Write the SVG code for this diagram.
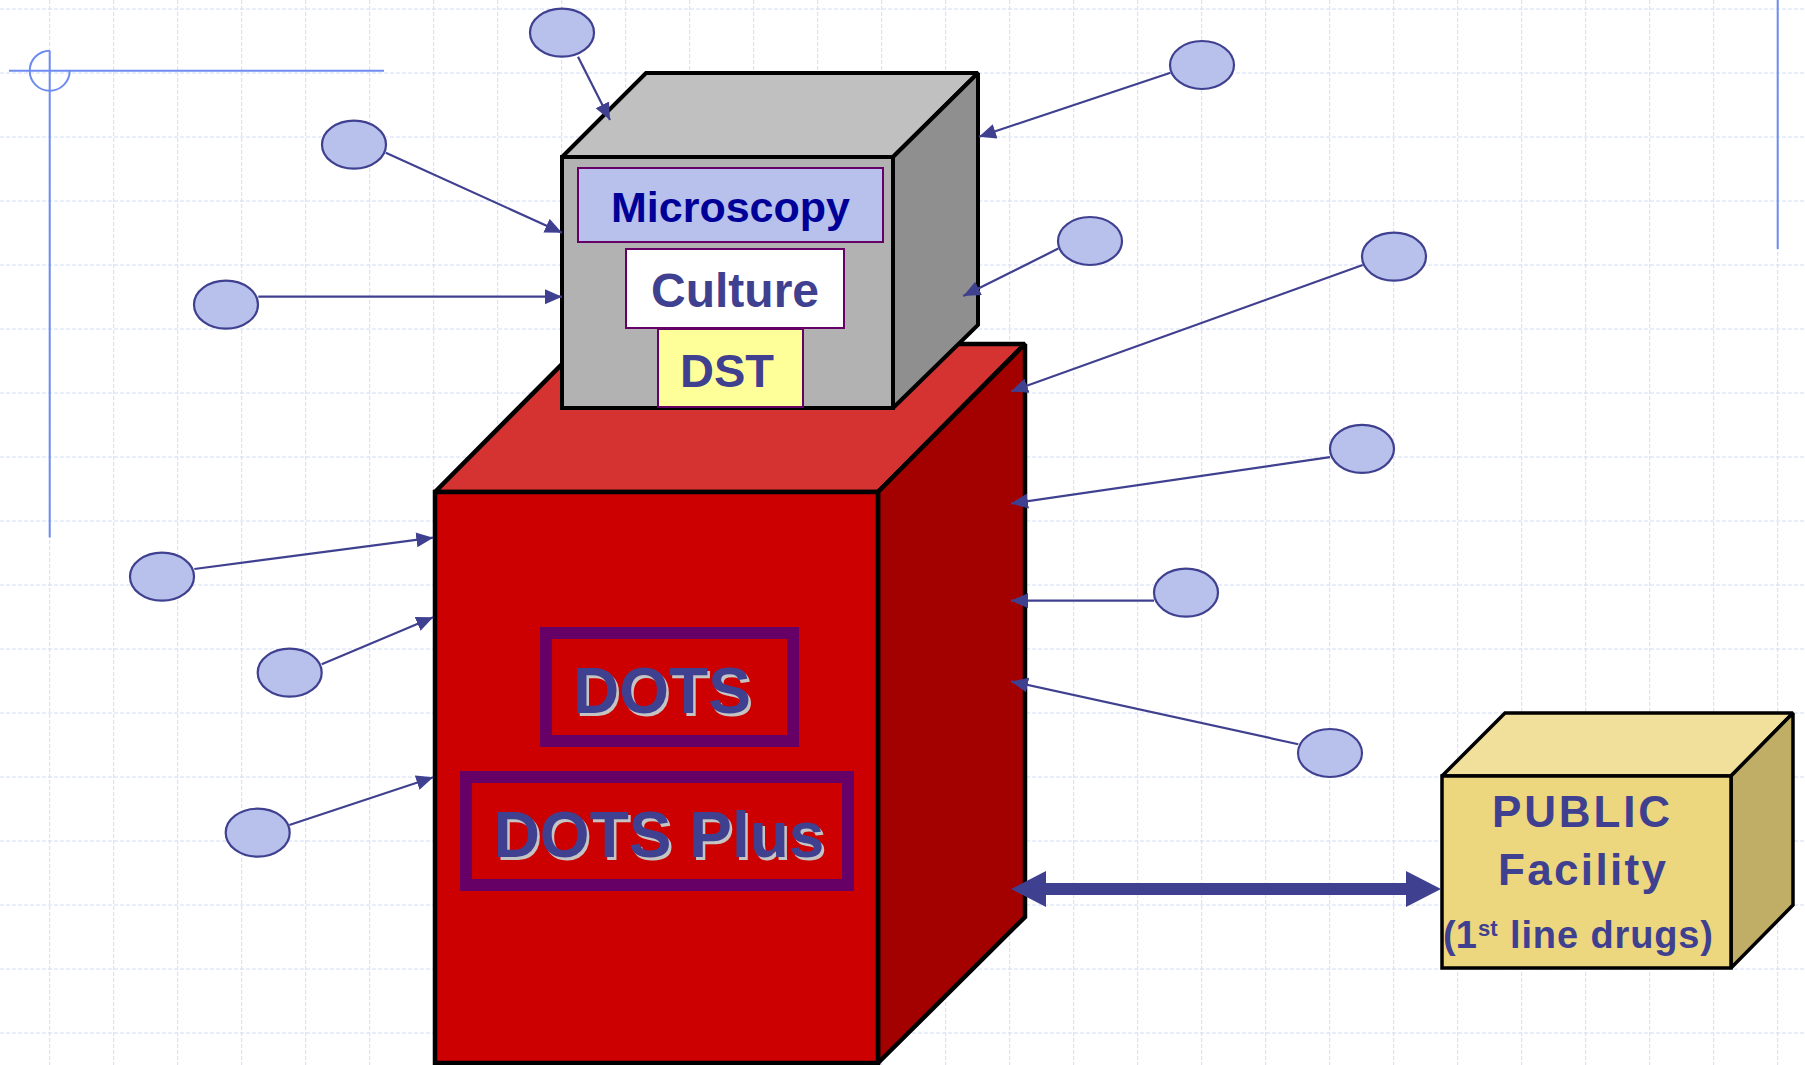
<svg xmlns="http://www.w3.org/2000/svg" width="1805" height="1065" viewBox="0 0 1805 1065">
<style>
.grid{stroke:#d3dcf7;stroke-width:1;stroke-dasharray:4 2;fill:none}
.deco{stroke:#6d8bf0;stroke-width:2;fill:none}
.edge{stroke:#000;stroke-linejoin:miter;stroke-miterlimit:2}
.oval{fill:#b7c1ec;stroke:#404090;stroke-width:2.2}
.conn{stroke:#404090;stroke-width:2.2;fill:none;marker-end:url(#ah)}
.big{stroke:#404090;stroke-width:12;fill:none}
.bighead{fill:#404090}
.lbl{font-family:"Liberation Sans",Arial,sans-serif;font-weight:bold}
.inner{stroke:#660066;stroke-width:2}
.frame{fill:none;stroke:#660066;stroke-width:12}
.ink{fill:#404090}
.shadow{fill:#c4c4c4}
</style>
<defs>
<marker id="ah" markerUnits="userSpaceOnUse" markerWidth="18" markerHeight="16" refX="17" refY="7.5" orient="auto" viewBox="0 0 18 16">
<path d="M0,0 L17,7.5 L0,15 z" fill="#404090"/>
</marker>
</defs>
<rect width="1805" height="1065" fill="#fff"/>
<g id="grid">
<path class="grid" d="M49.7,0V1065M113.7,0V1065M177.7,0V1065M241.7,0V1065M305.7,0V1065M369.7,0V1065M433.7,0V1065M497.7,0V1065M561.7,0V1065M625.7,0V1065M689.7,0V1065M753.7,0V1065M817.7,0V1065M881.7,0V1065M945.7,0V1065M1009.7,0V1065M1073.7,0V1065M1137.7,0V1065M1201.7,0V1065M1265.7,0V1065M1329.7,0V1065M1393.7,0V1065M1457.7,0V1065M1521.7,0V1065M1585.7,0V1065M1649.7,0V1065M1713.7,0V1065M1777.7,0V1065"/>
<path class="grid" d="M0,9H1805M0,73H1805M0,137H1805M0,201H1805M0,265H1805M0,329H1805M0,393H1805M0,457H1805M0,521H1805M0,585H1805M0,649H1805M0,713H1805M0,777H1805M0,841H1805M0,905H1805M0,969H1805M0,1033H1805"/>
</g>
<g id="decoration">
<path class="deco" d="M9,70.7H384"/>
<path class="deco" d="M49.7,50.7V537.5"/>
<path class="deco" d="M49.7,50.7A20,20 0 1 0 69.7,70.7"/>
<path class="deco" d="M1777.7,0V249"/>
</g>
<g id="dots-cube">
<polygon class="edge" points="435,492 582,344 1025,344 878,492" fill="#d53232" stroke-width="4.5"/>
<polygon class="edge" points="878,492 1025,344 1025,917 878,1063" fill="#a30000" stroke-width="4.5"/>
<rect class="edge" x="435" y="492" width="443" height="571" fill="#cc0000" stroke-width="4.5"/>
<rect class="frame" x="546" y="633" width="247" height="108"/>
<text class="lbl shadow" x="664.5" y="715.5" font-size="64" text-anchor="middle">DOTS</text>
<text class="lbl ink" x="662" y="713" font-size="64" text-anchor="middle">DOTS</text>
<rect class="frame" x="466" y="777" width="382" height="108"/>
<text class="lbl shadow" x="661.5" y="859.5" font-size="64" text-anchor="middle">DOTS Plus</text>
<text class="lbl ink" x="659" y="857" font-size="64" text-anchor="middle">DOTS Plus</text>
</g>
<g id="lab-cube">
<polygon class="edge" points="562,157 646,73 978,73 893,157" fill="#c0c0c0" stroke-width="4"/>
<polygon class="edge" points="893,157 978,73 978,325 893,408" fill="#8f8f8f" stroke-width="4"/>
<rect class="edge" x="562" y="157" width="331" height="251" fill="#b2b2b2" stroke-width="4"/>
</g>
<g id="microscopy">
<rect class="inner" x="578" y="168" width="305" height="74" fill="#b7c1ec"/>
<text class="lbl" x="730.5" y="222" font-size="43" text-anchor="middle" fill="#000099">Microscopy</text>
</g>
<g id="culture">
<rect class="inner" x="626" y="249" width="218" height="79" fill="#ffffff"/>
<text class="lbl ink" x="735" y="307" font-size="48" text-anchor="middle">Culture</text>
</g>
<g id="dst">
<rect class="inner" x="658" y="329" width="145" height="78" fill="#ffff99"/>
<text class="lbl ink" x="727" y="387" font-size="47" text-anchor="middle">DST</text>
</g>
<g id="public-facility">
<polygon class="edge" points="1442,776 1505,713 1793,713 1731,776" fill="#f1e09b" stroke-width="3.5"/>
<polygon class="edge" points="1731,776 1793,713 1793,905 1731,968" fill="#c1ae66" stroke-width="3.5"/>
<rect class="edge" x="1442" y="776" width="289" height="192" fill="#ecd77f" stroke-width="3.5"/>
<text class="lbl ink" x="1492" y="827" font-size="44" textLength="178" lengthAdjust="spacing">PUBLIC</text>
<text class="lbl ink" x="1498" y="885" font-size="44" textLength="168" lengthAdjust="spacing">Facility</text>
<text class="lbl ink" x="1443" y="948" font-size="38">(1</text>
<text class="lbl ink" x="1478" y="936" font-size="22">st</text>
<text class="lbl ink" x="1510" y="948" font-size="38" textLength="203" lengthAdjust="spacing">line drugs)</text>
</g>
<g id="ovals">
<g id="oval-1"><ellipse class="oval" cx="562" cy="32.7" rx="32" ry="24"/></g>
<g id="oval-2"><ellipse class="oval" cx="354" cy="144.7" rx="32" ry="24"/></g>
<g id="oval-3"><ellipse class="oval" cx="226" cy="304.7" rx="32" ry="24"/></g>
<g id="oval-4"><ellipse class="oval" cx="1202" cy="65" rx="32" ry="24"/></g>
<g id="oval-5"><ellipse class="oval" cx="1090" cy="241" rx="32" ry="24"/></g>
<g id="oval-6"><ellipse class="oval" cx="1394" cy="256.6" rx="32" ry="24"/></g>
<g id="oval-7"><ellipse class="oval" cx="1362" cy="448.8" rx="32" ry="24"/></g>
<g id="oval-8"><ellipse class="oval" cx="1186" cy="592.6" rx="32" ry="24"/></g>
<g id="oval-9"><ellipse class="oval" cx="1330" cy="753" rx="32" ry="24"/></g>
<g id="oval-10"><ellipse class="oval" cx="162" cy="576.7" rx="32" ry="24"/></g>
<g id="oval-11"><ellipse class="oval" cx="289.7" cy="672.7" rx="32" ry="24"/></g>
<g id="oval-12"><ellipse class="oval" cx="257.7" cy="832.7" rx="32" ry="24"/></g>
</g>
<g id="connectors">
<line class="conn" x1="578" y1="56.7" x2="610" y2="120"/>
<line class="conn" x1="385.8" y1="152.7" x2="562" y2="232.7"/>
<line class="conn" x1="258.3" y1="296.7" x2="562" y2="296.7"/>
<line class="conn" x1="1170.5" y1="72.7" x2="979" y2="136.7"/>
<line class="conn" x1="1058.3" y1="248.6" x2="963.3" y2="296"/>
<line class="conn" x1="1362.7" y1="265" x2="1011" y2="391.4"/>
<line class="conn" x1="1330" y1="457.2" x2="1011" y2="503.5"/>
<line class="conn" x1="1154" y1="600.7" x2="1011" y2="600.7"/>
<line class="conn" x1="1298.3" y1="744.2" x2="1011" y2="681.4"/>
<line class="conn" x1="194.3" y1="569" x2="433.3" y2="537.7"/>
<line class="conn" x1="321.7" y1="664.3" x2="433.3" y2="617.3"/>
<line class="conn" x1="289.3" y1="825" x2="433.3" y2="777.3"/>
<line class="big" x1="1040" y1="889" x2="1412" y2="889"/>
<polygon class="bighead" points="1011,889 1046,871 1046,907"/>
<polygon class="bighead" points="1441,889 1406,871 1406,907"/>
</g>
</svg>
